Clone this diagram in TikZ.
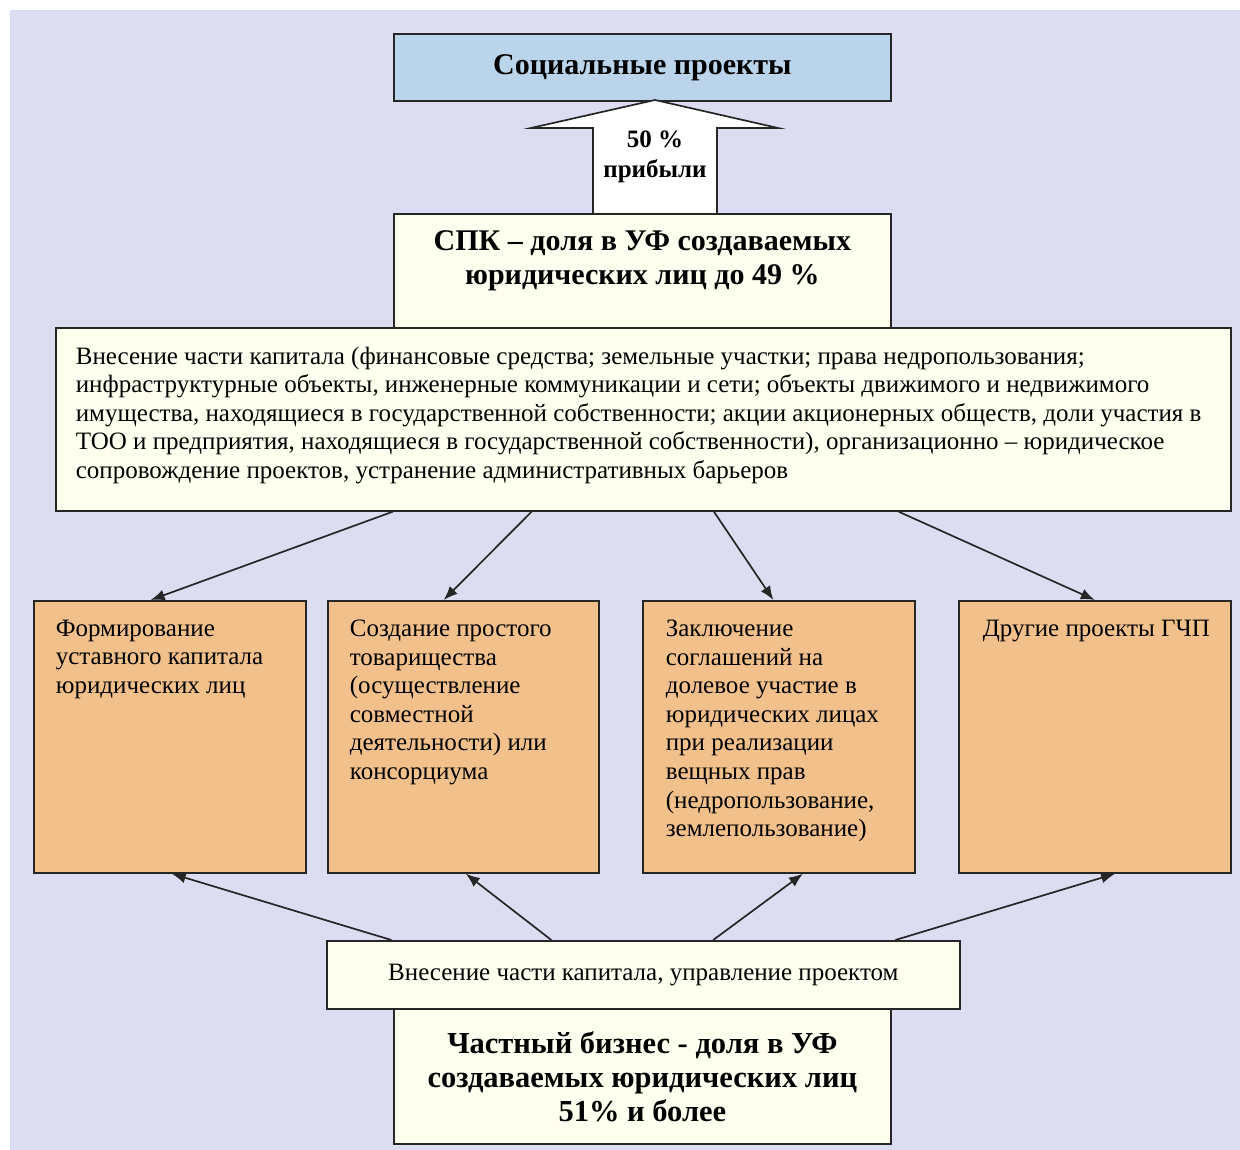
\documentclass[tikz,border=0pt]{standalone}
\usepackage{fontspec}
\setmainfont{Liberation Serif}
\usetikzlibrary{arrows.meta,calc}

\definecolor{pagebg}{HTML}{DCDDF1}
\definecolor{titleblue}{HTML}{BAD4EB}
\definecolor{cream}{HTML}{FFFFF0}
\definecolor{tan}{HTML}{F2C08A}

\begin{document}
\begin{tikzpicture}[x=1pt,y=-1pt,
  panel/.style={draw=black!85, line width=1.7pt, rectangle, inner sep=0pt, anchor=north west},
  link/.style={line width=1.7pt, draw=black!85, -{Latex[length=14pt,width=11pt]}},
  headfont/.style={font=\fontsize{30}{34}\selectfont\bfseries},
  bodyfont/.style={font=\fontsize{25}{28.6}\selectfont},
]
\useasboundingbox (0,0) rectangle (1240,1150);
\fill[pagebg] (10,10) rectangle (1240,1150);

% social projects
\node[panel, fill=titleblue, minimum width=497pt, minimum height=67pt, headfont] (soc) at (393,33) {Социальные проекты};

% block arrow: 50 % of profit goes to social projects
\draw[line width=1.7pt, fill=white, draw=black!85, line join=miter]
  (593,213) -- (593,128) -- (531,128) -- (655,100) -- (778,128) -- (717,128) -- (717,213);
\node[font=\fontsize{25}{30}\selectfont\bfseries, align=center] (share) at (655,157) {50 \%\\прибыли};

% SPK share
\node[panel, fill=cream, headfont] (spk) at (393,213)
  {\parbox[c][114pt][t]{497pt}{\vspace*{17pt}\centering СПК – доля в УФ создаваемых\\юридических лиц до 49 \%}};

% contribution of SPK
\node[panel, fill=cream, bodyfont] (big) at (55,327)
  {\parbox[c][183pt][t]{1175pt}{\vspace*{19pt}\raggedright\leftskip=20pt
   Внесение части капитала (финансовые средства; земельные участки; права недропользования;\\
   инфраструктурные объекты, инженерные коммуникации и сети; объекты движимого и недвижимого\\
   имущества, находящиеся в государственной собственности; акции акционерных обществ, доли участия в\\
   ТОО и предприятия, находящиеся в государственной собственности), организационно – юридическое\\
   сопровождение проектов, устранение административных барьеров}};

% forms of partnership
\node[panel, fill=tan, bodyfont] (f1) at (33,600)
  {\parbox[c][272pt][t]{272pt}{\vspace*{19pt}\raggedright\leftskip=22pt
   Формирование\\уставного капитала\\юридических лиц}};
\node[panel, fill=tan, bodyfont] (f2) at (327,600)
  {\parbox[c][272pt][t]{271pt}{\vspace*{19pt}\raggedright\leftskip=22pt
   Создание простого\\товарищества\\(осуществление\\совместной\\деятельности) или\\консорциума}};
\node[panel, fill=tan, bodyfont] (f3) at (642,600)
  {\parbox[c][272pt][t]{272pt}{\vspace*{19pt}\raggedright\leftskip=23pt
   Заключение\\соглашений на\\долевое участие в\\юридических лицах\\при реализации\\вещных прав\\(недропользование,\\землепользование)}};
\node[panel, fill=tan, bodyfont] (f4) at (958,600)
  {\parbox[c][272pt][t]{272pt}{\vspace*{19pt}\raggedright\leftskip=24pt
   Другие проекты ГЧП}};

% private business
\node[panel, fill=cream, minimum width=633pt, minimum height=68pt, bodyfont] (sub) at (326,940)
  {Внесение части капитала, управление проектом};
\node[panel, fill=cream, minimum width=497pt, minimum height=135pt, align=center,
      font=\fontsize{30.5}{34}\selectfont\bfseries] (priv) at (393,1008)
  {Частный бизнес - доля в УФ\\создаваемых юридических лиц\\51\% и более};

% connectors from SPK contribution
\draw[link] ($(big.south west)!0.287!(big.south east)$) -- ($(f1.north west)!0.43!(f1.north east)$);
\draw[link] ($(big.south west)!0.405!(big.south east)$) -- ($(f2.north west)!0.428!(f2.north east)$);
\draw[link] ($(big.south west)!0.560!(big.south east)$) -- ($(f3.north west)!0.48!(f3.north east)$);
\draw[link] ($(big.south west)!0.717!(big.south east)$) -- ($(f4.north west)!0.5!(f4.north east)$);

% connectors from private business
\draw[link] ($(sub.north west)!0.103!(sub.north east)$) -- ($(f1.south west)!0.507!(f1.south east)$);
\draw[link] ($(sub.north west)!0.355!(sub.north east)$) -- ($(f2.south west)!0.509!(f2.south east)$);
\draw[link] ($(sub.north west)!0.610!(sub.north east)$) -- ($(f3.south west)!0.588!(f3.south east)$);
\draw[link] ($(sub.north west)!0.897!(sub.north east)$) -- ($(f4.south west)!0.574!(f4.south east)$);
\end{tikzpicture}
\end{document}
